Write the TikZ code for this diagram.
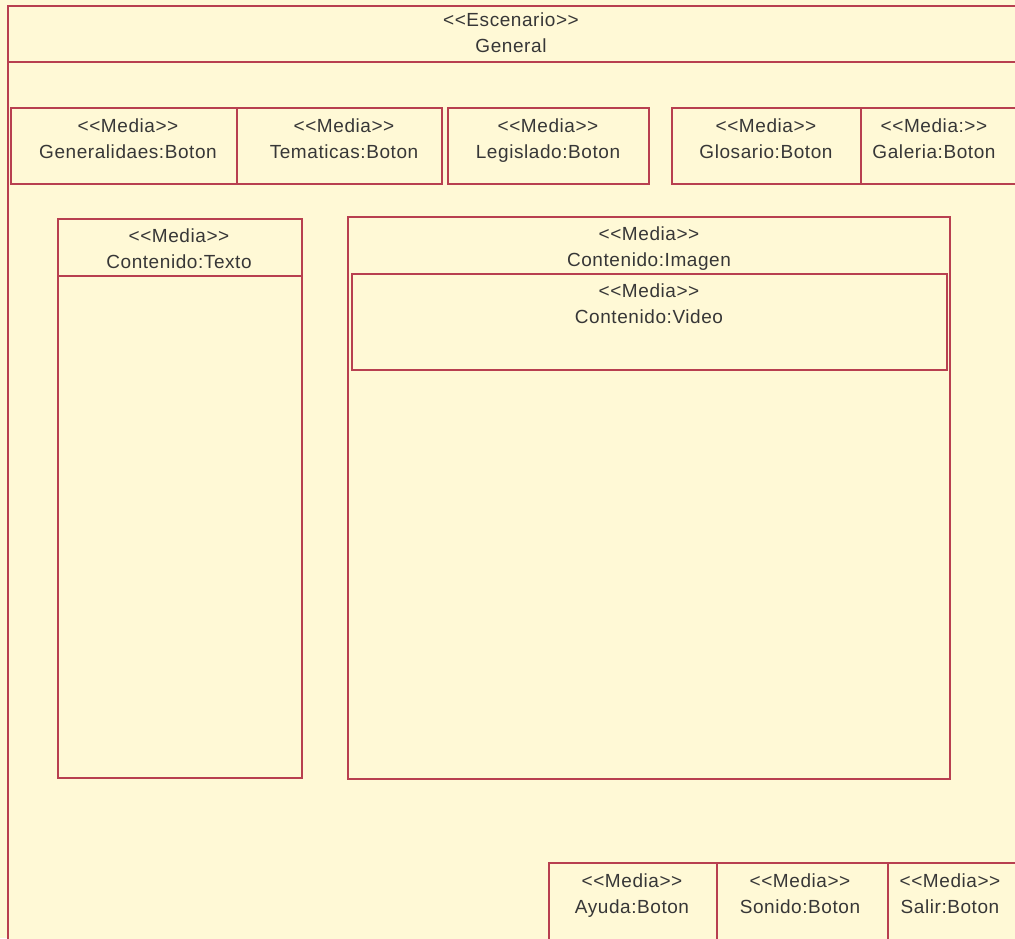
\documentclass[tikz,border=0pt]{standalone}
\usepackage{fontspec}
\setmainfont{Liberation Sans}[LetterSpace=3]
\definecolor{paper}{RGB}{255,249,214}
\definecolor{edge}{RGB}{184,64,80}
\definecolor{ink}{RGB}{55,55,55}
% stereotype in double angle brackets, kept as two separate glyphs
\newcommand{\stereo}[1]{<{}<#1>{}>}
\begin{document}
\begin{tikzpicture}[x=1pt,y=-1pt,
  box/.style={draw=edge,line width=1.6pt,fill=paper,rectangle,inner sep=0pt,anchor=north west},
  rule/.style={draw=edge,line width=1.6pt},
  lbl/.style={text=ink,align=center,inner sep=0pt,font=\fontsize{19}{26}\selectfont}]
\clip (0,0) rectangle (1015,938);
\fill[paper] (0,0) rectangle (1015,938);
% scenario frame
\node[box,minimum width=1030pt,minimum height=960pt] (scene) at (7,5) {};
\coordinate (hl) at (7,62);
\coordinate (hr) at (1030,62);
\draw[rule] (hl) -- (hr);
\node[lbl] (scenet) at (511,34) {\strut\stereo{Escenario}\\\strut General};
% top row of buttons
\node[box,minimum width=226pt,minimum height=76pt] (gen) at (10,107) {};
\node[box,minimum width=205pt,minimum height=76pt] (tem) at (236,107) {};
\node[box,minimum width=201pt,minimum height=76pt] (leg) at (447,107) {};
\node[box,minimum width=189pt,minimum height=76pt] (glo) at (671,107) {};
\node[box,minimum width=170pt,minimum height=76pt] (gal) at (860,107) {};
\node[lbl] (gent) at (128,140) {\strut\stereo{Media}\\\strut Generalidaes:Boton};
\node[lbl] (temt) at (344,140) {\strut\stereo{Media}\\\strut Tematicas:Boton};
\node[lbl] (legt) at (548,140) {\strut\stereo{Media}\\\strut Legislado:Boton};
\node[lbl] (glot) at (766,140) {\strut\stereo{Media}\\\strut Glosario:Boton};
\node[lbl] (galt) at (934,140) {\strut\stereo{Media:}\\\strut Galeria:Boton};
% text content
\node[box,minimum width=244pt,minimum height=559pt] (txt) at (57,218) {};
\coordinate (tl) at (57,276);
\coordinate (tr) at (301,276);
\draw[rule] (tl) -- (tr);
\node[lbl] (txtt) at (179,250) {\strut\stereo{Media}\\\strut Contenido:Texto};
% image content with nested video
\node[box,minimum width=602pt,minimum height=562pt] (img) at (347,216) {};
\node[lbl] (imgt) at (649,248) {\strut\stereo{Media}\\\strut Contenido:Imagen};
\node[box,minimum width=595pt,minimum height=96pt] (vid) at (351,273) {};
\node[lbl] (vidt) at (649,305) {\strut\stereo{Media}\\\strut Contenido:Video};
% bottom row of buttons
\node[box,minimum width=168pt,minimum height=90pt] (ayu) at (548,862) {};
\node[box,minimum width=171pt,minimum height=90pt] (son) at (716,862) {};
\node[box,minimum width=150pt,minimum height=90pt] (sal) at (887,862) {};
\node[lbl] (ayut) at (632,895) {\strut\stereo{Media}\\\strut Ayuda:Boton};
\node[lbl] (sont) at (800,895) {\strut\stereo{Media}\\\strut Sonido:Boton};
\node[lbl] (salt) at (950,895) {\strut\stereo{Media}\\\strut Salir:Boton};
\end{tikzpicture}
\end{document}
